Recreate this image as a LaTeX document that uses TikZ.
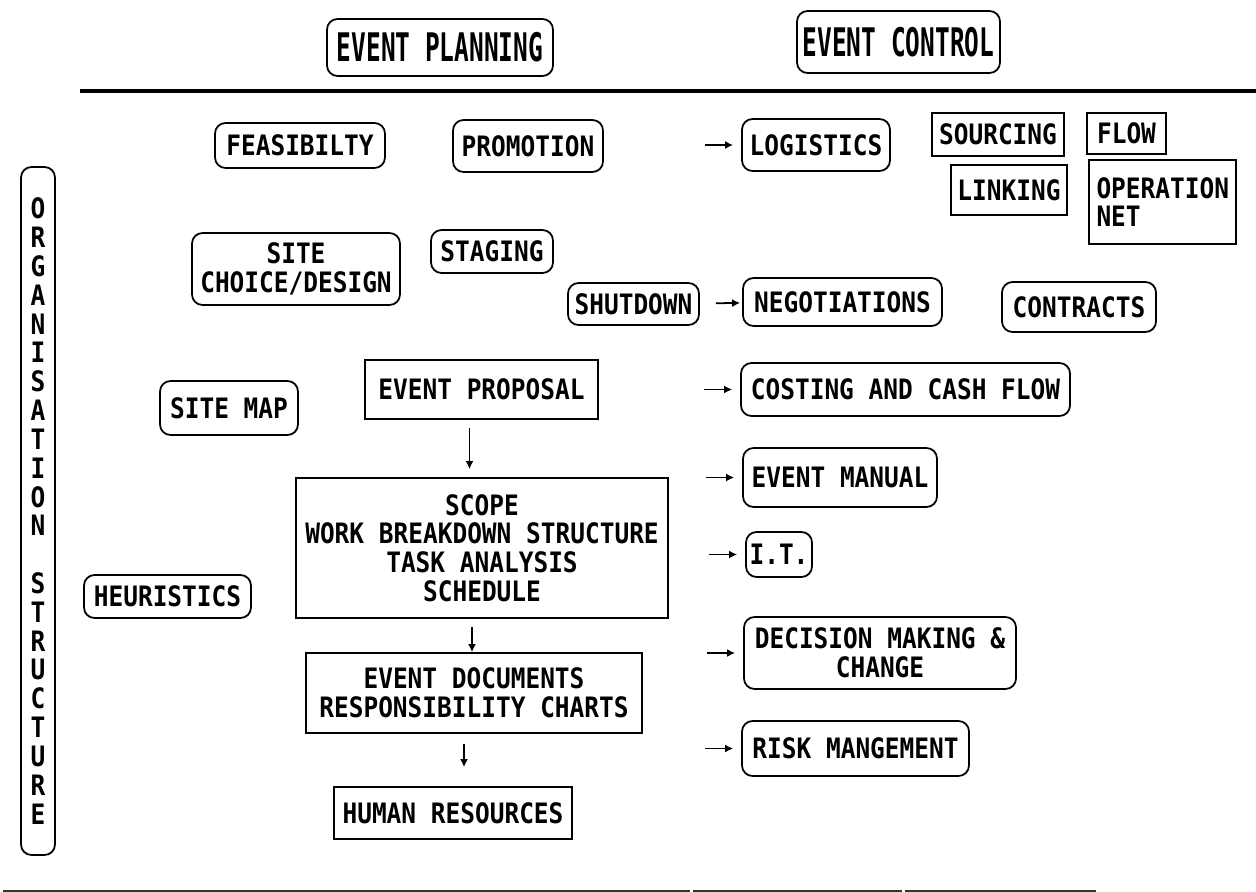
\documentclass[tikz,border=0pt]{standalone}
\usepackage{fontspec}
\setmainfont{DejaVu Sans Mono}[FakeStretch=0.87]
\usepackage{graphicx}
\usetikzlibrary{arrows.meta}

\begin{document}
\begin{tikzpicture}[x=0.2mm,y=-0.2mm]
\tikzset{
every node/.style={font=\bfseries\fontsize{16}{16.4}\selectfont},
rbox/.style 2 args={draw,line width=1pt,rounded corners=6pt,align=center,
  inner sep=1pt,minimum width=#1,minimum height=#2},
sbox/.style 2 args={draw,line width=1pt,align=center,
  inner sep=1pt,minimum width=#1,minimum height=#2},
arr/.style={line width=1pt,-{Latex[length=1.6mm,width=1.6mm]}},
}
\useasboundingbox (0,0) rectangle (1256,892);

% headings
\node[rbox={45.2mm}{11.4mm}] (plan) at (440,47.5) {\scalebox{1}[1.4]{EVENT PLANNING}};
\node[rbox={40.6mm}{12.4mm}] (ctrl) at (898.5,42) {\scalebox{1}[1.4]{EVENT CONTROL}};
\draw[line width=2.8pt] (80,91) -- (1256,91);

\node[rbox={6.8mm}{137.6mm}] (org) at (38,511)
  {O\\R\\G\\A\\N\\I\\S\\A\\T\\I\\O\\N\\~\\S\\T\\R\\U\\C\\T\\U\\R\\E};

% planning side
\node[rbox={34mm}{9mm}] (feas) at (300,145.5) {FEASIBILTY};
\node[rbox={30mm}{10.4mm}] (promo) at (528,146) {PROMOTION};
\node[rbox={41.6mm}{14.4mm}] (site) at (296,269) {SITE\\CHOICE/DESIGN};
\node[rbox={24.4mm}{8.6mm}] (stag) at (492,251.5) {STAGING};
\node[rbox={26.2mm}{8.4mm}] (shut) at (633.5,304) {SHUTDOWN};
\node[rbox={27.6mm}{10.8mm}] (smap) at (229,408) {SITE MAP};
\node[rbox={33.4mm}{8.6mm}] (heur) at (167.5,596.5) {HEURISTICS};

\node[sbox={46.6mm}{11.8mm}] (prop) at (481.5,389.5) {EVENT PROPOSAL};
\node[sbox={74.4mm}{28mm}] (scope) at (482,548)
  {SCOPE\\WORK BREAKDOWN STRUCTURE\\TASK ANALYSIS\\SCHEDULE};
\node[sbox={67.2mm}{16mm}] (docs) at (474,693)
  {EVENT DOCUMENTS\\RESPONSIBILITY CHARTS};
\node[sbox={47.6mm}{10.4mm}] (hum) at (453,813) {HUMAN RESOURCES};

\draw[arr,shorten <=1.6mm,shorten >=1.6mm] ([xshift=-2.4mm]prop.south) -- ([xshift=-2.4mm]prop.south |- scope.north);
\draw[arr,shorten <=1.6mm] ([xshift=-2mm]scope.south) -- ([xshift=-2mm]scope.south |- docs.north);
\draw[arr,shorten <=2mm,shorten >=3.8mm] ([xshift=-2mm]docs.south) -- ([xshift=-2mm]docs.south |- hum.north);

% control side
\node[rbox={29.6mm}{10.4mm}] (logi) at (816,145) {LOGISTICS};
\node[sbox={26.4mm}{8.6mm}] (sourc) at (998,134.5) {SOURCING};
\node[sbox={15.8mm}{8.2mm}] (flow) at (1126.5,133.5) {FLOW};
\node[sbox={23.2mm}{10mm}] (link) at (1009,190) {LINKING};
\node[draw,line width=1pt,align=left,text width=26.4mm,inner xsep=1.5mm,
  minimum height=16.8mm] (oper) at (1162.5,202) {OPERATION\\NET};
\node[rbox={39.8mm}{9.6mm}] (nego) at (842.5,302) {NEGOTIATIONS};
\node[rbox={30.8mm}{10mm}] (contr) at (1079,307) {CONTRACTS};
\node[rbox={65.8mm}{10.6mm}] (cost) at (905.5,389.5) {COSTING AND CASH FLOW};
\node[rbox={38.8mm}{11.8mm}] (man) at (840,477.5) {EVENT MANUAL};
\node[rbox={13.2mm}{9mm}] (it) at (779,554.5) {I.T.};
\node[rbox={54.4mm}{14.4mm}] (dec) at (880,653) {DECISION MAKING \&\\CHANGE};
\node[rbox={45.4mm}{11mm}] (risk) at (855.5,748.5) {RISK MANGEMENT};

\draw[arr,shorten <=3.2mm,shorten >=0.4mm] (shut) -- (nego);
\foreach \n in {logi,cost,man,it,dec,risk}{
  \coordinate (in-\n) at ([xshift=-7.2mm]\n.west);
  \draw[arr,shorten >=1.6mm] (in-\n) -- (\n);
}

\draw[line width=1pt,black!80] (3,891) -- (690,891) (693,891) -- (902,891) (905,891) -- (1096,891);
\end{tikzpicture}
\end{document}
